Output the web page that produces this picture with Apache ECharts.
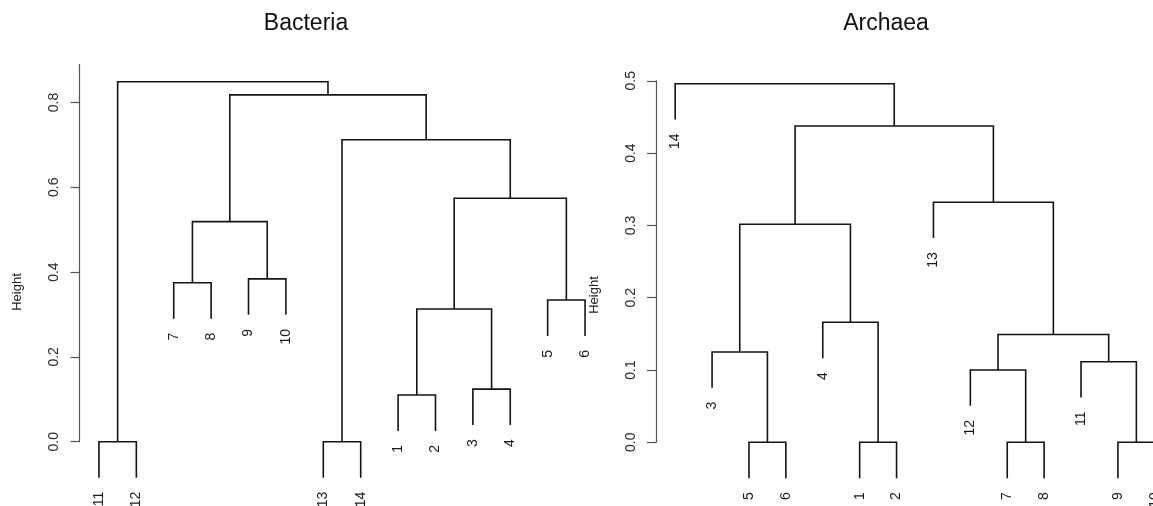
<!DOCTYPE html>
<html><head><meta charset="utf-8">
<script src="https://cdn.jsdelivr.net/npm/echarts@6/dist/echarts.min.js"></script>
<style>html,body{margin:0;padding:0;background:#fff}#c{width:1153px;height:506px}</style>
</head><body><div id="c"></div>
<script>
// ---- Bacteria dendrogram (R hclust style: negative = observation, positive = earlier merge) ----
const bactOrder  = [11, 12, 7, 8, 9, 10, 13, 14, 1, 2, 3, 4, 5, 6];
const bactMergeA = [-11, -13, -1, -3, 3, -5, -7, -9, 7, 5, 2, 9, 1];
const bactMergeB = [-12, -14, -2, -4, 4, -6, -8, -10, 8, 6, 10, 11, 12];
const bactHeight = [0, 0, 0.110, 0.124, 0.313, 0.334, 0.375, 0.384, 0.519, 0.574, 0.712, 0.818, 0.849];
const bactTicks  = [0, 0.2, 0.4, 0.6, 0.8];
const bactAxisTop = 0.89;

// ---- Archaea dendrogram ----
const archOrder  = [14, 3, 5, 6, 4, 1, 2, 13, 12, 7, 8, 11, 9, 10];
const archMergeA = [-5, -1, -7, -9, -12, -11, -3, 5, -4, 7, -13, 10, -14];
const archMergeB = [-6, -2, -8, -10, 3, 4, 1, 6, 2, 9, 8, 11, 12];
const archHeight = [0, 0, 0, 0, 0.100, 0.1115, 0.125, 0.149, 0.166, 0.3015, 0.332, 0.4375, 0.496];
const archTicks  = [0, 0.1, 0.2, 0.3, 0.4, 0.5];
const archAxisTop = 0.5;

const titles = ['Bacteria', 'Archaea'];
const yName = 'Height';
const HANG = 0.1;

function build(order, A, B, H) {
  const hang = HANG * (Math.max(...H) - Math.min(...H));
  const pos = {};
  order.forEach((id, i) => pos[id] = i + 1);
  const cx = [], merges = [], leaves = [];
  for (let k = 0; k < H.length; k++) {
    const kids = [A[k], B[k]].map(c => c < 0
      ? { x: pos[-c], y: H[k] - hang, leaf: -c }
      : { x: cx[c - 1], y: H[c - 1] });
    cx[k] = (kids[0].x + kids[1].x) / 2;
    merges.push([kids[0].x, kids[0].y, kids[1].x, kids[1].y, H[k]]);
    kids.forEach(ch => { if (ch.leaf) leaves.push([ch.x, ch.y, ch.leaf]); });
  }
  return { merges, leaves, n: order.length };
}

const trees = [
  build(bactOrder, bactMergeA, bactMergeB, bactHeight),
  build(archOrder, archMergeA, archMergeB, archHeight)
];

const FONT = 'Liberation Sans, Arial, Helvetica, sans-serif';
const LINE = '#141414';

function mergeSeries(i) {
  return {
    type: 'custom', xAxisIndex: i, yAxisIndex: i, clip: false, silent: true,
    encode: { x: [0, 2], y: [1, 3, 4] },
    data: trees[i].merges,
    renderItem: (p, api) => {
      const x1 = api.value(0), y1 = api.value(1), x2 = api.value(2), y2 = api.value(3), h = api.value(4);
      return {
        type: 'polyline',
        shape: { points: [api.coord([x1, y1]), api.coord([x1, h]), api.coord([x2, h]), api.coord([x2, y2])] },
        style: { stroke: LINE, lineWidth: 1.6, fill: null }
      };
    }
  };
}
function leafSeries(i) {
  return {
    type: 'custom', xAxisIndex: i, yAxisIndex: i, clip: false, silent: true,
    encode: { x: 0, y: 1 },
    data: trees[i].leaves,
    renderItem: (p, api) => {
      const pt = api.coord([api.value(0), api.value(1)]);
      return {
        type: 'text', x: pt[0], y: pt[1] + 14, rotation: Math.PI / 2,
        style: { text: String(api.value(2)), align: 'right', verticalAlign: 'middle',
                 fontSize: 14, fontFamily: FONT, fill: '#1a1a1a' }
      };
    }
  };
}
function yAx(i, top, ticks) {
  return {
    gridIndex: i, type: 'value', min: 0, max: top,
    splitLine: { show: false },
    axisLine: { show: true, lineStyle: { color: '#555', width: 1.2 } },
    axisTick: { show: true, length: 9, customValues: ticks, lineStyle: { color: '#555', width: 1.2 } },
    axisLabel: { customValues: ticks, rotate: 90, margin: 18, fontSize: 14, fontFamily: FONT, color: '#2a2a2a',
                 formatter: v => v.toFixed(1) }
  };
}
// x extent: R-style 4% padding around leaves 1..n; the right panel is cropped by the image edge
function xAx(i, visibleFrac) {
  const n = trees[i].n, ext = 0.04 * (n - 1);
  const min = 1 - ext, full = n + ext;
  return { gridIndex: i, type: 'value', min: min, max: min + (full - min) * visibleFrac, show: false };
}

const chart = echarts.init(document.getElementById('c'), null, { renderer: 'canvas' });
chart.setOption({
  backgroundColor: '#fff',
  animation: false,
  grid: [
    { left: 79.5, top: 64.3, width: 525, height: 377.4 },
    { left: 656, top: 80.8, right: 0, height: 361.5 }
  ],
  xAxis: [xAx(0, 1), xAx(1, 497 / 518)],
  yAxis: [yAx(0, bactAxisTop, bactTicks), yAx(1, archAxisTop, archTicks)],
  graphic: [
    { type: 'text', x: 306, y: 24, style: { text: titles[0], align: 'center', verticalAlign: 'middle', fontSize: 23, fontFamily: FONT, fill: '#111' } },
    { type: 'text', x: 886, y: 24, style: { text: titles[1], align: 'center', verticalAlign: 'middle', fontSize: 23, fontFamily: FONT, fill: '#111' } },
    { type: 'text', x: 17.5, y: 292, rotation: Math.PI / 2, style: { text: yName, align: 'center', verticalAlign: 'middle', fontSize: 13, fontFamily: FONT, fill: '#222' } },
    { type: 'text', x: 594, y: 295, rotation: Math.PI / 2, style: { text: yName, align: 'center', verticalAlign: 'middle', fontSize: 13, fontFamily: FONT, fill: '#222' } }
  ],
  series: [mergeSeries(0), leafSeries(0), mergeSeries(1), leafSeries(1)]
});
</script></body></html>
